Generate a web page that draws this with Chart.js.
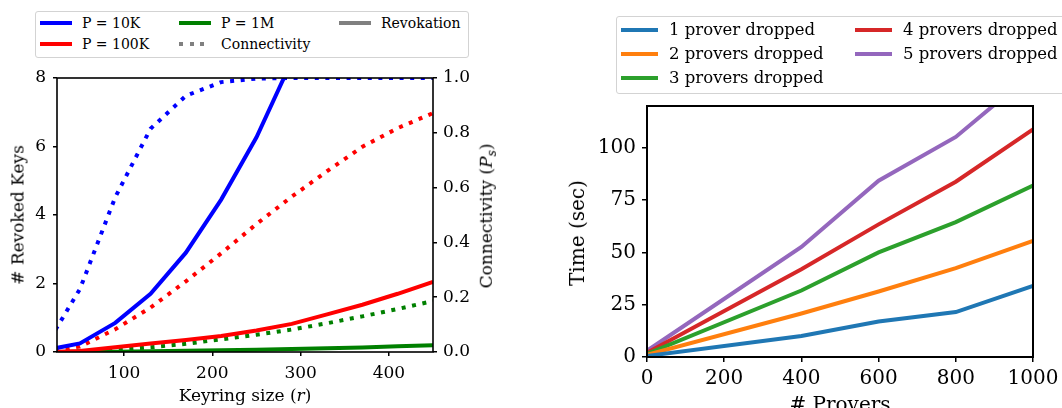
<!DOCTYPE html>
<html lang="en">
<head>
<meta charset="UTF-8">
<title>Revocation and dropped provers</title>
<script src="https://cdn.jsdelivr.net/npm/chart.js"></script>
<style>
  body { margin: 0; width: 1062px; height: 408px; overflow: hidden; background: #fff; position: relative;
         font-family: "DejaVu Serif", "Liberation Serif", serif; color: #000; }
  canvas { position: absolute; }
  .lbl { position: absolute; white-space: nowrap; line-height: 1; }
  .rot { transform: translate(-50%, -50%) rotate(-90deg); }
  .hor { transform: translate(-50%, -50%); }
  .legend { position: absolute; border: 1px solid #d3d3d3; border-radius: 3px; background: rgba(255,255,255,0.8); }
  .item { position: absolute; white-space: nowrap; line-height: 1; transform: translateY(-50%); }
  .sw { position: absolute; height: 4px; transform: translateY(-50%); }
</style>
</head>
<body>
<canvas id="keysChart" width="480" height="348" style="left:0;top:60px"></canvas>
<canvas id="proverChart" width="540" height="320" style="left:560px;top:88px"></canvas>

<div class="lbl rot" style="left:18px;top:215px;font-size:17px"># Revoked Keys</div>
<div class="lbl rot" style="left:488px;top:216px;font-size:17px">Connectivity (<i>P<sub style="font-size:12px">s</sub></i>)</div>
<div class="lbl hor" style="left:245px;top:395px;font-size:17px">Keyring size (<i>r</i>)</div>
<div class="lbl rot" style="left:577px;top:233px;font-size:20px">Time (sec)</div>
<div class="lbl hor" style="left:840px;top:404px;font-size:20px"># Provers</div>

<div id="legendLeft"></div>
<div id="legendRight"></div>

<script>
// left plot: revoked keys / connectivity vs keyring size
const keyring = [10, 50, 90, 130, 170, 210, 250, 290, 330, 370, 410, 450];
const keyringTicks = [100, 200, 300, 400];
const revokedTicks = [0, 2, 4, 6, 8];
const connTicks = [0, 0.2, 0.4, 0.6, 0.8, 1.0];

const revoked10K  = [0.05, 0.25, 0.85, 1.7, 2.9, 4.45, 6.27, 8.5];
const revoked100K = [0.0, 0.03, 0.14, 0.25, 0.35, 0.47, 0.63, 0.82, 1.1, 1.38, 1.7, 2.05];
const revoked1M   = [0.0, 0.005, 0.01, 0.02, 0.035, 0.05, 0.065, 0.085, 0.11, 0.135, 0.165, 0.2];
const conn10K  = [0.015, 0.23, 0.565, 0.815, 0.935, 0.985, 0.998, 1.0, 1.0, 1.0, 1.0, 1.0];
const conn100K = [0.0, 0.02, 0.083, 0.162, 0.258, 0.36, 0.467, 0.567, 0.66, 0.749, 0.817, 0.872];
const conn1M   = [0.0, 0.003, 0.008, 0.017, 0.03, 0.046, 0.063, 0.082, 0.105, 0.13, 0.157, 0.186];

// right plot: time vs number of provers
const provers = [0, 400, 600, 800, 1000];
const proverTicks = [0, 200, 400, 600, 800, 1000];
const timeTicks = [0, 25, 50, 75, 100];
const dropped1 = [0.5, 10, 17, 21.5, 34];
const dropped2 = [1, 20.8, 31.3, 42.5, 55.5];
const dropped3 = [1.5, 31.8, 50, 64.5, 82];
const dropped4 = [2, 42, 63.4, 83.8, 108.8];
const dropped5 = [3, 52.6, 84.3, 105.2, 136];

const dotted = [4, 6.6];
const font = '"DejaVu Serif", "Liberation Serif", serif';

function pts(xs, ys) {
    return ys.map((y, i) => ({ x: xs[i], y: y }));
}

// draw the full box around the plot area
const framePlugin = {
    id: 'frame',
    afterDatasetsDraw(chart, args, opts) {
        const a = chart.chartArea, ctx = chart.ctx;
        ctx.save();
        ctx.strokeStyle = '#000';
        ctx.lineWidth = opts.width;
        ctx.strokeRect(a.left, a.top, a.right - a.left, a.bottom - a.top);
        ctx.restore();
    }
};

function axis(ticks, opts) {
    return Object.assign({
        type: 'linear',
        afterBuildTicks: s => { s.ticks = ticks.map(v => ({ value: v })); },
        grid: { display: true, drawOnChartArea: false, drawTicks: true, tickLength: 4, color: '#000', lineWidth: 1.5 },
        border: { display: false },
        ticks: { color: '#000', font: { family: font, size: 17 }, padding: 7, maxRotation: 0, autoSkip: false, callback: v => String(v) }
    }, opts);
}

function line(label, xs, ys, color, axisId, dash, width) {
    return {
        label: label,
        data: pts(xs, ys),
        borderColor: color,
        backgroundColor: color,
        borderWidth: width || 4,
        borderDash: dash || [],
        borderCapStyle: 'butt',
        pointRadius: 0,
        tension: 0,
        fill: false,
        clip: 0,
        yAxisID: axisId
    };
}

new Chart(document.getElementById('keysChart'), {
    type: 'line',
    data: {
        datasets: [
            line('P = 10K', keyring, revoked10K, '#0000ff', 'y'),
            line('P = 100K', keyring, revoked100K, '#ff0000', 'y'),
            line('P = 1M', keyring, revoked1M, '#008000', 'y'),
            line('P = 10K conn', keyring, conn10K, '#0000ff', 'y2', dotted),
            line('P = 100K conn', keyring, conn100K, '#ff0000', 'y2', dotted),
            line('P = 1M conn', keyring, conn1M, '#008000', 'y2', dotted)
        ]
    },
    options: {
        responsive: false,
        animation: false,
        layout: { padding: { top: 18 } },
        plugins: { legend: { display: false }, tooltip: { enabled: false }, frame: { width: 1.6 } },
        scales: {
            x: axis(keyringTicks, { min: 24, max: 450, afterFit: s => { s.height = 56; } }),
            y: axis(revokedTicks, { position: 'left', min: 0, max: 8, afterFit: s => { s.width = 57; } }),
            y2: axis(connTicks, {
                position: 'right', min: 0, max: 1,
                afterFit: s => { s.width = 47; },
                ticks: { color: '#000', font: { family: font, size: 17 }, padding: 6, callback: v => v.toFixed(1) }
            })
        }
    },
    plugins: [framePlugin]
});

const tabColors = ['#1f77b4', '#ff7f0e', '#2ca02c', '#d62728', '#9467bd'];
const droppedLabels = ['1 prover dropped', '2 provers dropped', '3 provers dropped', '4 provers dropped', '5 provers dropped'];
const droppedSeries = [dropped1, dropped2, dropped3, dropped4, dropped5];

const bigGrid = { display: true, drawOnChartArea: false, drawTicks: true, tickLength: 5, color: '#000', lineWidth: 1.5 };
function bigTicks(pad) {
    return { color: '#000', font: { family: font, size: 20 }, padding: pad, maxRotation: 0, autoSkip: false, callback: v => String(v) };
}

new Chart(document.getElementById('proverChart'), {
    type: 'line',
    data: {
        datasets: droppedSeries.map((s, i) => line(droppedLabels[i], provers, s, tabColors[i], 'y'))
    },
    options: {
        responsive: false,
        animation: false,
        layout: { padding: { top: 0, right: 67 } },
        plugins: { legend: { display: false }, tooltip: { enabled: false }, frame: { width: 2 } },
        scales: {
            x: axis(proverTicks, { min: 0, max: 1000, grid: bigGrid, ticks: bigTicks(5), afterFit: s => { s.height = 51; } }),
            y: axis(timeTicks, { min: 0, max: 120, grid: bigGrid, ticks: bigTicks(6), afterFit: s => { s.width = 87; } })
        }
    },
    plugins: [framePlugin]
});

// legends (laid out in matplotlib column order)
function swatch(color, isDotted, left, top, width) {
    const bg = isDotted
        ? 'repeating-linear-gradient(to right,' + color + ' 0 4px, transparent 4px 10.6px)'
        : color;
    return '<div class="sw" style="left:' + left + 'px;top:' + top + 'px;width:' + width + 'px;background:' + bg + '"></div>';
}
function item(text, left, top, size) {
    return '<div class="item" style="left:' + left + 'px;top:' + top + 'px;font-size:' + size + 'px">' + text + '</div>';
}

const leftLegend = [
    ['P = 10K', '#0000ff', false, 0, 0],
    ['P = 100K', '#ff0000', false, 0, 1],
    ['P = 1M', '#008000', false, 1, 0],
    ['Connectivity', '#808080', true, 1, 1],
    ['Revokation', '#808080', false, 2, 0]
];
const leftCols = [4, 143, 303];
let html = '<div class="legend" style="left:35px;top:11px;width:432px;height:45px">';
leftLegend.forEach(e => {
    const y = 11 + e[4] * 21;
    html += swatch(e[1], e[2], leftCols[e[3]], y, 32);
    html += item(e[0], leftCols[e[3]] + 42, y, 14);
});
html += '</div>';
document.getElementById('legendLeft').innerHTML = html;

const rightCols = [4, 238];
html = '<div class="legend" style="left:616px;top:16px;width:470px;height:76px">';
droppedLabels.forEach((t, i) => {
    const col = i < 3 ? 0 : 1, row = i < 3 ? i : i - 3;
    const y = 13 + row * 24;
    html += swatch(tabColors[i], false, rightCols[col], y, 37);
    html += item(t, rightCols[col] + 48, y, 16.5);
});
html += '</div>';
document.getElementById('legendRight').innerHTML = html;
</script>
</body>
</html>
